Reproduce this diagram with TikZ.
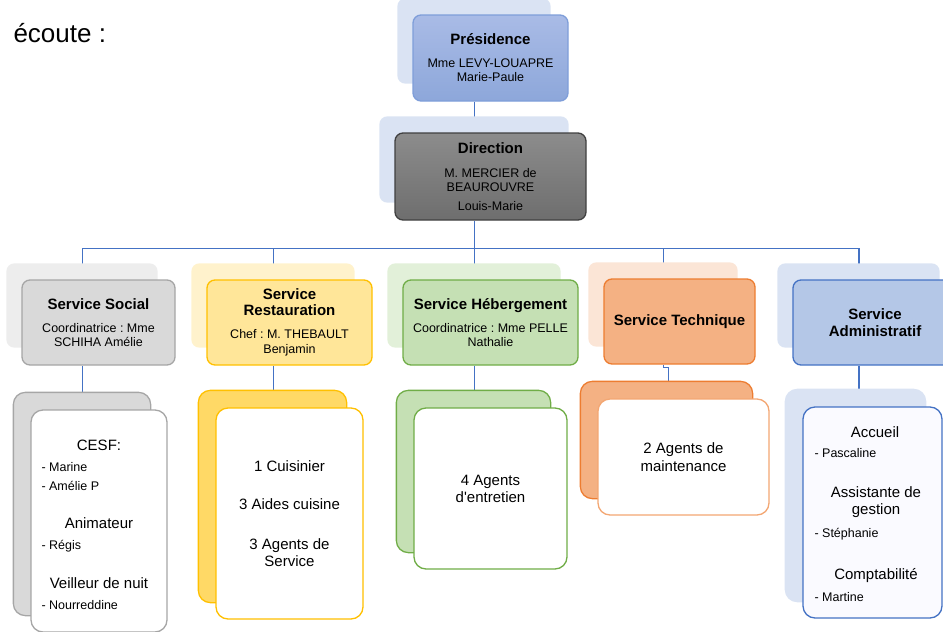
\documentclass[tikz,border=0pt]{standalone}
\usepackage{fontspec}
\setmainfont{Liberation Sans}
\usetikzlibrary{backgrounds}
\frenchspacing

\definecolor{linkblue}{HTML}{4472C4}
\definecolor{bluepale}{HTML}{DAE3F3}
\definecolor{prestop}{HTML}{A9BBE6}
\definecolor{presbot}{HTML}{8DA7DA}
\definecolor{presline}{HTML}{7F9ED9}
\definecolor{dirtop}{HTML}{8C8C8C}
\definecolor{dirbot}{HTML}{6E6E6E}
\definecolor{dirline}{HTML}{404040}
\definecolor{greyfill}{HTML}{D9D9D9}
\definecolor{greyline}{HTML}{A6A6A6}
\definecolor{greypale}{HTML}{EDEDED}
\definecolor{yellowfill}{HTML}{FFE699}
\definecolor{yellowline}{HTML}{FFC000}
\definecolor{yellowpale}{HTML}{FFF2CC}
\definecolor{yellowdeep}{HTML}{FFD966}
\definecolor{greenfill}{HTML}{C5E0B4}
\definecolor{greenline}{HTML}{70AD47}
\definecolor{greenpale}{HTML}{E2F0D9}
\definecolor{orangefill}{HTML}{F4B183}
\definecolor{orangeline}{HTML}{ED7D31}
\definecolor{orangepale}{HTML}{FBE5D6}
\definecolor{admfill}{HTML}{B4C7E7}

\newcommand\headfont{\bfseries\fontsize{15}{16}\selectfont}
\newcommand\namefont{\fontsize{12.5}{14}\selectfont}
\newcommand\jobfont{\fontsize{15}{17}\selectfont}

\tikzset{
  unitbox/.style={draw, rounded corners=8pt, line width=1.3pt, align=center,
    inner sep=0pt, font=\namefont, minimum height=85pt},
  staffbox/.style={draw, fill=white, rounded corners=12pt, line width=1.3pt,
    align=center, inner sep=0pt, font=\jobfont},
  heading/.style={font=\jobfont, align=center},
  member/.style={anchor=west, font=\namefont},
  link/.style={draw=linkblue, line width=1.2pt},
}

\begin{document}
\begin{tikzpicture}[x=1pt, y=-1pt]
  \clip (0,0) rectangle (943,632);

  \node[anchor=base west, font=\fontsize{26}{30}\selectfont] (ecoute) at (10,42) {écoute :};

  % top of the chart
  \node[unitbox, top color=prestop, bottom color=presbot, draw=presline,
    minimum width=155pt, minimum height=86pt] (pres) at (490.5,58)
    {{\headfont Présidence}\\[9pt]Mme LEVY-LOUAPRE\\Marie-Paule};
  \node[unitbox, top color=dirtop, bottom color=dirbot, draw=dirline,
    minimum width=191pt, minimum height=87pt] (dir) at (490.5,176.5)
    {{\headfont Direction}\\[10pt]M. MERCIER de\\BEAUROUVRE\\[5pt]Louis-Marie};

  % services
  \node[unitbox, fill=greyfill, draw=greyline, minimum width=153pt] (soc) at (98.5,322.5)
    {{\headfont Service Social}\\[9pt]Coordinatrice : Mme\\SCHIHA Amélie};
  \node[unitbox, fill=yellowfill, draw=yellowline, minimum width=165pt] (rest) at (289.5,322.5)
    {{\headfont Service}\\[2pt]{\headfont Restauration}\\[9pt]Chef : M. THEBAULT\\[1pt]Benjamin};
  \node[unitbox, fill=greenfill, draw=greenline, minimum width=175pt] (heb) at (490.5,322.5)
    {{\headfont Service Hébergement}\\[9pt]Coordinatrice : Mme PELLE\\Nathalie};
  \node[unitbox, fill=orangefill, draw=orangeline, minimum width=151pt] (tech) at (679.5,321.5)
    {{\headfont Service Technique}};
  \node[unitbox, fill=admfill, draw=linkblue, minimum width=164pt] (adm) at (875,322.5)
    {{\headfont Service}\\[3pt]{\headfont Administratif}};

  % staff of each service
  \node[staffbox, draw=greyline, minimum width=136pt, minimum height=222pt] (socstaff) at (99,521) {};
  \node[staffbox, draw=yellowline, minimum width=147pt, minimum height=211pt] (reststaff) at (289.5,513.5)
    {1 Cuisinier\\[21pt]3 Aides cuisine\\[23pt]3 Agents de\\Service};
  \node[staffbox, draw=greenline, minimum width=153pt, minimum height=161pt] (hebstaff) at (490.5,488.5)
    {4 Agents\\d\textquotesingle entretien};
  \node[staffbox, draw=orangefill!80!orangeline, minimum width=171pt, minimum height=116pt] (techstaff) at (683.5,457)
    {2 Agents de\\[1pt]maintenance};
  \node[staffbox, fill=blue!2, draw=linkblue, minimum width=139pt, minimum height=211pt] (admstaff) at (872.5,512.5) {};

  \node[heading] (cesf) at (99,445) {CESF:};
  \node[member] (marine) at (38,467) {- Marine};
  \node[member] (ameliep) at (38,486) {- Amélie P};
  \node[heading] (anim) at (99,523) {Animateur};
  \node[member] (regis) at (38,546) {- Régis};
  \node[heading] (veil) at (99,583) {Veilleur de nuit};
  \node[member] (nour) at (38,605) {- Nourreddine};

  \node[heading] (accueil) at (875,432) {Accueil};
  \node[member] (pascaline) at (811,453) {- Pascaline};
  \node[heading] (assist) at (876,502.5) {Assistante de\\gestion};
  \node[member] (stephanie) at (811,534) {- Stéphanie};
  \node[heading] (compta) at (876,576) {Comptabilité};
  \node[member] (martine) at (811,597) {- Martine};

  \begin{pgfonlayer}{background}
    % connectors
    \draw[link] ([xshift=-16pt]pres.south) -- ([xshift=-16pt]dir.north);
    \draw[link] ([xshift=-16pt]dir.south) -- ++(0,28) coordinate (bus);
    \foreach \n in {soc,rest,heb,tech,adm}
      \draw[link] (bus) -| ([xshift=-16pt]\n.north);
    \foreach \n/\m in {soc/socstaff,rest/reststaff,heb/hebstaff,adm/admstaff}
      \draw[link] ([xshift=-16pt]\n.south) -- ([xshift=-16pt]\n.south |- \m.north);
    \draw[link] ([xshift=-16pt]tech.south) -- ++(0,3) -| ([xshift=-11pt]tech.south |- techstaff.north);

    % pale cards behind the units
    \foreach \n/\c in {pres/bluepale,dir/bluepale,soc/greypale,rest/yellowpale,
        heb/greenpale,tech/orangepale,adm/bluepale}
      \fill[\c, rounded corners=8pt] ([shift={(-15,-18)}]\n.south west)
        rectangle ([shift={(-18,-16)}]\n.north east);
    % cards behind the staff boxes
    \foreach \n/\c/\d in {socstaff/greyfill/greyline,reststaff/yellowdeep/yellowline,
        hebstaff/greenfill/greenline,techstaff/orangefill/orangeline,admstaff/bluepale/bluepale}
      \filldraw[fill=\c, draw=\d, line width=1.3pt, rounded corners=12pt]
        ([shift={(-17,-17)}]\n.south west) rectangle ([shift={(-17,-17)}]\n.north east);
  \end{pgfonlayer}
\end{tikzpicture}
\end{document}
